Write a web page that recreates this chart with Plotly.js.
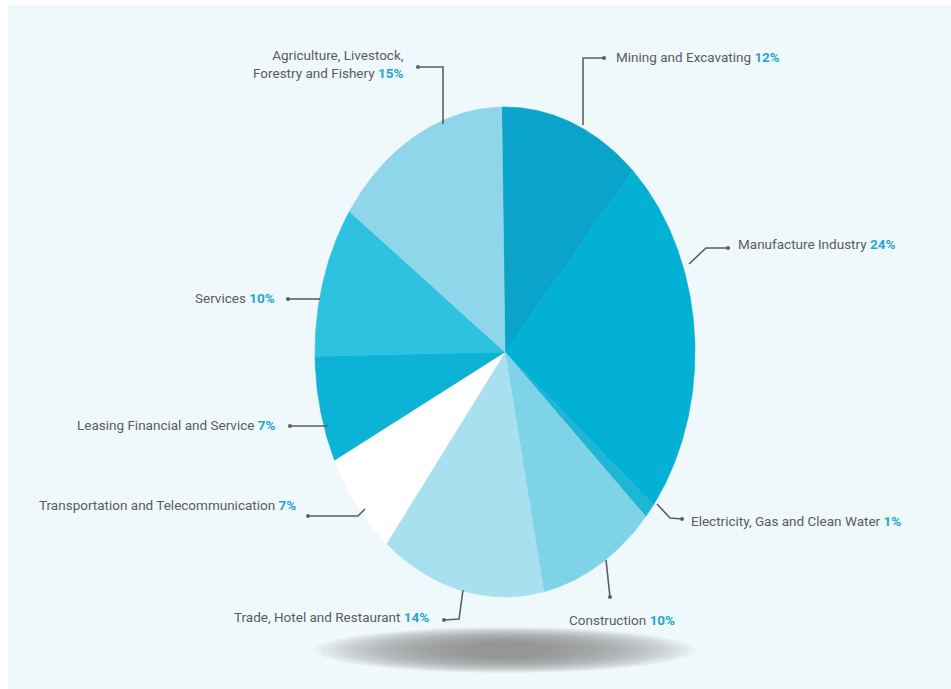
<!DOCTYPE html>
<html>
<head>
<meta charset="utf-8">
<script src="https://cdn.plot.ly/plotly-3.0.1.min.js"></script>
<style>
html,body{margin:0;padding:0;background:#eff8fb;}
#chart{width:951px;height:689px;}
</style>
</head>
<body>
<div id="chart"></div>
<script>
// ---- data ----
const categories = [
  "Mining and Excavating",
  "Manufacture Industry",
  "Electricity, Gas and Clean Water",
  "Construction",
  "Trade, Hotel and Restaurant",
  "Transportation and Telecommunication",
  "Leasing Financial and Service",
  "Services",
  "Agriculture, Livestock,<br>Forestry and Fishery"
];
const values = [12, 24, 1, 10, 14, 7, 7, 10, 15];
const sliceColors = ["#0aa3c9", "#02b1d3", "#1fb6d6", "#7fd3e7", "#a9e0ef", "#ffffff", "#0cb3d5", "#2dc3e0", "#8fd6ea"];

// ---- layout config (pixels in the 951x689 figure) ----
const W = 951, H = 689;
const CX = 505, CY = 352, RX = 190, RY = 245;
const START_DEG = -1;
const labelCfg = [
  {tx: 614, ty: 57, anchor: "left",  path: [[583,125],[583,58],[604,58]], dot: [604,58]},
  {tx: 736, ty: 244, anchor: "left", path: [[689,264],[706,248],[728,248]], dot: [728,248]},
  {tx: 689, ty: 521, anchor: "left", path: [[657,504],[670,518],[682,519]], dot: [682,519]},
  {tx: 567, ty: 620, anchor: "left", path: [[606,560],[610,597]], dot: [610,597]},
  {tx: 431, ty: 617, anchor: "right", path: [[463,590],[459,619],[444,620]], dot: [444,620]},
  {tx: 298, ty: 505, anchor: "right", path: [[365,509],[358,516],[308,516]], dot: [308,516]},
  {tx: 278, ty: 425, anchor: "right", path: [[328,426],[290,426]], dot: [290,426]},
  {tx: 277, ty: 298, anchor: "right", path: [[320,299],[288,299]], dot: [288,299]},
  {tx: 406, ty: 64, anchor: "right", path: [[443,124],[443,67],[418,67]], dot: [418,67]}
];

const px = x => x / W;
const py = y => 1 - y / H;

// ---- pie slices drawn on a unit circle; axes stretch it into the ellipse ----
const total = values.reduce((a, b) => a + b, 0);
const start = START_DEG * Math.PI / 180;
const traces = [];
let cum = 0;
values.forEach((v, i) => {
  const a0 = start + cum / total * 2 * Math.PI;
  cum += v;
  const a1 = start + cum / total * 2 * Math.PI;
  const n = Math.max(4, Math.ceil((a1 - a0) / 0.01));
  const xs = [0], ys = [0];
  for (let k = 0; k <= n; k++) {
    const a = a0 + (a1 - a0) * k / n;
    xs.push(Math.sin(a));
    ys.push(Math.cos(a));
  }
  xs.push(0); ys.push(0);
  traces.push({
    type: "scatter", mode: "lines", x: xs, y: ys,
    fill: "toself", fillcolor: sliceColors[i],
    line: {color: sliceColors[i], width: 0.6},
    hoverinfo: "text", text: categories[i] + " " + v + "%",
    showlegend: false
  });
});

// ---- leader lines and labels ----
const shapes = [];
const annotations = [];
// white frame strips at top and left
shapes.push({type: "rect", xref: "paper", yref: "paper", x0: 0, x1: 1, y0: py(5), y1: 1, fillcolor: "#ffffff", line: {width: 0}, layer: "below"});
shapes.push({type: "rect", xref: "paper", yref: "paper", x0: 0, x1: px(8), y0: 0, y1: 1, fillcolor: "#ffffff", line: {width: 0}, layer: "below"});
// floor shadow made of stacked soft ellipses
const NS = 24;
for (let k = 0; k < NS; k++) {
  const t = k / (NS - 1);
  const rx = 190 - t * 150, ry = 23 - t * 15;
  shapes.push({type: "circle", xref: "paper", yref: "paper",
    x0: px(505 - rx), x1: px(505 + rx), y0: py(650 + ry), y1: py(650 - ry),
    fillcolor: "#808186", opacity: 0.065, line: {width: 0}, layer: "below"});
}

labelCfg.forEach((c, i) => {
  const d = "M " + c.path.map(p => px(p[0]) + "," + py(p[1])).join(" L ");
  shapes.push({type: "path", xref: "paper", yref: "paper", path: d, line: {color: "#5d5e61", width: 1.6}});
  shapes.push({type: "circle", xref: "paper", yref: "paper",
    x0: px(c.dot[0] - 2), x1: px(c.dot[0] + 2), y0: py(c.dot[1] + 2), y1: py(c.dot[1] - 2),
    fillcolor: "#5d5e61", line: {width: 0}});
  annotations.push({
    xref: "paper", yref: "paper", x: px(c.tx), y: py(c.ty),
    xanchor: c.anchor, yanchor: "middle", align: "right", showarrow: false,
    text: categories[i] + ' <b><span style="color:#26a6cc">' + values[i] + '%</span></b>',
    font: {family: "Roboto, Liberation Sans, sans-serif", size: 13.5, color: "#5b5c5f"}
  });
});

const layout = {
  width: W, height: H,
  margin: {l: 0, r: 0, t: 0, b: 0},
  paper_bgcolor: "#eff8fb", plot_bgcolor: "rgba(0,0,0,0)",
  xaxis: {range: [-CX / RX, (W - CX) / RX], visible: false, fixedrange: true},
  yaxis: {range: [-(H - CY) / RY, CY / RY], visible: false, fixedrange: true},
  shapes: shapes, annotations: annotations, showlegend: false
};

Plotly.newPlot("chart", traces, layout, {displayModeBar: false, staticPlot: true});
</script>
</body>
</html>
